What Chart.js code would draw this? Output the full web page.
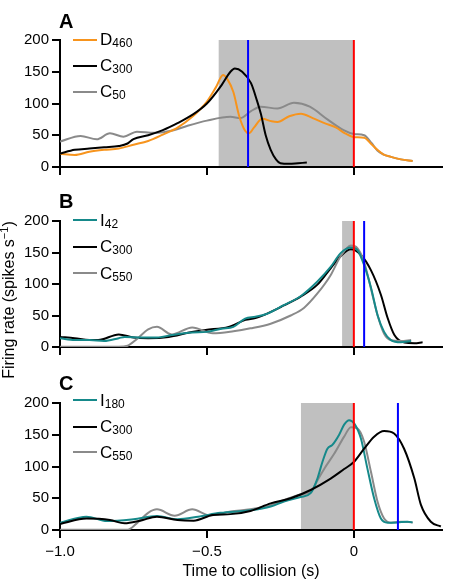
<!DOCTYPE html>
<html><head><meta charset="utf-8">
<script src="https://cdn.jsdelivr.net/npm/chart.js@4.4.1/dist/chart.umd.min.js"></script>
<style>
body{margin:0;background:#fff;}
#wrap{position:relative;width:456px;height:582px;overflow:hidden;font-family:"Liberation Sans",Arial,Helvetica,sans-serif;color:#000;background:#fff;}
canvas{position:absolute;left:0;}
.plabel{position:absolute;font-weight:bold;font-size:20px;line-height:20px;}
.leg{position:absolute;font-size:17px;line-height:17px;white-space:nowrap;}
.sw{position:absolute;width:24px;height:2px;}
.sub{font-size:12px;position:relative;top:2px;}
#ytitle{position:absolute;width:240px;height:20px;line-height:20px;font-size:16px;text-align:center;transform:rotate(-90deg);white-space:nowrap;}
#ytitle sup{font-size:11px;vertical-align:baseline;position:relative;top:-6px;}
</style></head><body>
<div id="wrap">
<canvas id="cA" width="456" height="180" style="top:0px"></canvas>
<canvas id="cB" width="456" height="180" style="top:180px"></canvas>
<canvas id="cC" width="456" height="222" style="top:360px"></canvas>
<div id="ytitle">Firing rate (spikes s<sup>−1</sup>)</div>
</div>
<script>
// ---------- DATA ----------
const xTicks = [-1, -0.5, 0];
const yTicks = [0, 50, 100, 150, 200];

// Panel A
const tA_D460 = [-1.0,-0.95,-0.9,-0.85,-0.8,-0.75,-0.7,-0.65,-0.6,-0.55,-0.5,-0.47,-0.445,-0.43,-0.41,-0.39,-0.37,-0.357,-0.34,-0.312,-0.28,-0.26,-0.22,-0.18,-0.14,-0.1,-0.06,-0.03,0.0,0.035,0.06,0.08,0.1,0.126,0.16,0.2];
const vA_D460 = [21,19,24,27,29,35,41,51,62,79,103,125,145,138,118,80,57,53,62,76,72,71,80,84,77,69,62,53,47,46,36,27,20,16,12,9.5];
const tA_C300 = [-1.0,-0.95,-0.9,-0.85,-0.8,-0.77,-0.75,-0.7,-0.65,-0.6,-0.55,-0.5,-0.45,-0.42,-0.405,-0.38,-0.35,-0.33,-0.316,-0.3,-0.283,-0.265,-0.25,-0.22,-0.19,-0.16];
const vA_C300 = [21,27,29,31,33,37,44,50,58,69,82,100,129,150,155,150,132,105,83,50,27,12,6,5,6,7];
const tA_C50 = [-1.0,-0.93,-0.875,-0.83,-0.784,-0.738,-0.68,-0.613,-0.568,-0.5,-0.42,-0.386,-0.35,-0.317,-0.26,-0.204,-0.15,-0.09,-0.035,0.0,0.035,0.06,0.08,0.1,0.126,0.16,0.2];
const vA_C50 = [40,49,43.6,53,47.7,55.6,54,58,64.6,73,79,77,88,95,92,101,95,75,58,52,50,38,26,20,16,12,9.5];

// Panel B
const tB_I42 = [-1.0,-0.95,-0.9,-0.85,-0.8,-0.78,-0.72,-0.67,-0.62,-0.55,-0.5,-0.45,-0.41,-0.37,-0.335,-0.3,-0.24,-0.18,-0.124,-0.079,-0.045,-0.01,0.012,0.035,0.058,0.081,0.103,0.126,0.16,0.195];
const vB_I42 = [14,11,11,9.5,14,16,15,15,19,23,24,29,32,45,48,52,66,81,104,127,149,158,154,130,95,50,24,11,7.4,9.5];
const tB_C300 = [-1.0,-0.95,-0.9,-0.87,-0.8,-0.75,-0.7,-0.63,-0.56,-0.505,-0.426,-0.369,-0.335,-0.295,-0.238,-0.181,-0.124,-0.079,-0.045,-0.01,0.024,0.058,0.092,0.115,0.138,0.172,0.206,0.234];
const vB_C300 = [16,14,11,11,20,15,14,16,23,27,32,43,46,53,66,80,99,125,144,155,146,122,83,46,19,7,6,7.5];
const tB_C550 = [-1.0,-0.8,-0.77,-0.74,-0.7,-0.67,-0.62,-0.55,-0.48,-0.41,-0.352,-0.283,-0.215,-0.17,-0.124,-0.079,-0.045,-0.01,0.012,0.035,0.058,0.081,0.103,0.126,0.16,0.195];
const vB_C550 = [0.5,0.5,2,12,28,32,20,31,21.7,25,29.6,37,50,62,85,114,144,161,157,135,93,50,21,11,9.5,11];

// Panel C
const tC_I180 = [-1.0,-0.91,-0.84,-0.75,-0.67,-0.6,-0.53,-0.454,-0.352,-0.283,-0.238,-0.181,-0.147,-0.124,-0.107,-0.09,-0.073,-0.05,-0.033,-0.016,0.001,0.024,0.046,0.069,0.092,0.115,0.149,0.183,0.2];
const vC_I180 = [11.5,21,14,17,22,17,21,27,31,37,45,52,58,81,107,128,134,150,166,173,168,144,97,50,18,11.5,12,13,12];
const tC_C300 = [-1.0,-0.91,-0.83,-0.78,-0.727,-0.67,-0.6,-0.545,-0.48,-0.42,-0.352,-0.283,-0.215,-0.147,-0.079,-0.033,0.0,0.035,0.069,0.103,0.137,0.171,0.206,0.228,0.262,0.296];
const vC_C300 = [9.4,18,15.7,10.5,14.7,21,15.7,14.7,23.6,25,30,42,50,63,81,96,107,128,147,156,152,128,81,40,13,5.5];
const tC_C550 = [-1.0,-0.77,-0.74,-0.7,-0.67,-0.61,-0.55,-0.49,-0.42,-0.352,-0.283,-0.238,-0.181,-0.147,-0.124,-0.1,-0.067,-0.033,-0.01,0.012,0.035,0.058,0.081,0.103,0.126,0.16,0.2];
const vC_C550 = [0.5,0.5,10,27,32.5,22.5,32.5,23,29,32.5,39,47,56,60,78,97,120,147,162,160,139,92,44,18,11.5,13,12];

// shaded windows and marker lines (time, s)
const shadeA = [-0.46, 0], shadeB = [-0.04, 0], shadeC = [-0.18, 0];
const redA = 0, redB = 0, redC = 0;
const blueA = -0.36, blueB = 0.035, blueC = 0.15;

// legend labels [main, subscript]
const legendA = [['D','460'],['C','300'],['C','50']];
const legendB = [['I','42'],['C','300'],['C','550']];
const legendC = [['I','180'],['C','300'],['C','550']];
const panelLetters = ['A','B','C'];

// ---------- STYLE ----------
const ORANGE = '#f7941d', BLACK = '#000000', GRAY = '#8a8a8a', TEAL = '#16898a';

Chart.defaults.font.family = '"Liberation Sans", Arial, Helvetica, sans-serif';
Chart.defaults.font.size = 15;
Chart.defaults.color = '#000';

const pts = (t, v) => t.map((x, i) => ({x: x, y: v[i]}));

const marksPlugin = {
  id: 'marks',
  beforeDraw(chart, args, o) {
    const {ctx, scales: {x, y}} = chart;
    const x0 = x.getPixelForValue(o.shade[0]), x1 = x.getPixelForValue(o.shade[1]);
    const yt = y.getPixelForValue(200), yb = y.getPixelForValue(0);
    ctx.save();
    ctx.fillStyle = '#c0c0c0';
    ctx.fillRect(x0, yt, x1 - x0, yb - yt);
    ctx.restore();
  },
  afterDatasetsDraw(chart, args, o) {
    const {ctx, scales: {x, y}} = chart;
    const yt = y.getPixelForValue(200), yb = y.getPixelForValue(0);
    ctx.save();
    ctx.lineWidth = 2;
    [[o.red, '#ff0000'], [o.blue, '#0000ff']].forEach(([v, c]) => {
      const px = x.getPixelForValue(v);
      ctx.strokeStyle = c;
      ctx.beginPath(); ctx.moveTo(px, yt); ctx.lineTo(px, yb); ctx.stroke();
    });
    ctx.restore();
  }
};

function fmtX(v) {
  if (v === 0) return '0';
  return (v < 0 ? '\u2212' : '') + Math.abs(v).toFixed(1);
}

function makePanel(id, padTop, xH, showX, series, shade, red, blue) {
  const datasets = series.map(s => ({
    label: s.label, data: pts(s.t, s.v), borderColor: s.color, borderWidth: 2,
    pointRadius: 0, fill: false, cubicInterpolationMode: 'monotone', order: s.order
  }));
  const axisGrid = {display: true, drawOnChartArea: false, drawTicks: true, tickLength: 8, color: '#000', lineWidth: 2};
  new Chart(document.getElementById(id), {
    type: 'line',
    data: {datasets},
    plugins: [marksPlugin],
    options: {
      responsive: false, animation: false, events: [],
      layout: {padding: {top: padTop, right: 14, left: 0, bottom: 0}},
      plugins: {legend: {display: false}, tooltip: {enabled: false}, marks: {shade, red, blue}},
      scales: {
        x: {
          type: 'linear', min: -1, max: 0.3,
          afterBuildTicks: a => { a.ticks = xTicks.map(v => ({value: v})); },
          afterFit: a => { a.height = xH; },
          ticks: {display: showX, callback: fmtX, maxRotation: 0, autoSkip: false, padding: 5, font: {size: 15}},
          grid: axisGrid,
          border: {display: true, color: '#000', width: 2},
          title: {display: showX, text: 'Time to collision (s)', font: {size: 16}, padding: {top: 0, bottom: 1}}
        },
        y: {
          min: 0, max: 200,
          afterBuildTicks: a => { a.ticks = yTicks.map(v => ({value: v})); },
          afterFit: a => { a.width = 60; },
          ticks: {padding: 3, font: {size: 15}},
          grid: axisGrid,
          border: {display: true, color: '#000', width: 2}
        }
      }
    }
  });
}

makePanel('cA', 40, 13, false, [
  {label: 'D460', t: tA_D460, v: vA_D460, color: ORANGE, order: 2},
  {label: 'C300', t: tA_C300, v: vA_C300, color: BLACK, order: 1},
  {label: 'C50', t: tA_C50, v: vA_C50, color: GRAY, order: 3}
], shadeA, redA, blueA);

makePanel('cB', 41, 13, false, [
  {label: 'I42', t: tB_I42, v: vB_I42, color: TEAL, order: 1},
  {label: 'C300', t: tB_C300, v: vB_C300, color: BLACK, order: 3},
  {label: 'C550', t: tB_C550, v: vB_C550, color: GRAY, order: 2}
], shadeB, redB, blueB);

makePanel('cC', 43, 52, true, [
  {label: 'I180', t: tC_I180, v: vC_I180, color: TEAL, order: 2},
  {label: 'C300', t: tC_C300, v: vC_C300, color: BLACK, order: 1},
  {label: 'C550', t: tC_C550, v: vC_C550, color: GRAY, order: 3}
], shadeC, redC, blueC);

// ---------- HTML text: panel letters, legends, y title ----------
const wrap = document.getElementById('wrap');
function addDiv(cls, html, left, top, extra) {
  const d = document.createElement('div');
  d.className = cls; d.innerHTML = html;
  d.style.left = left + 'px'; d.style.top = top + 'px';
  if (extra) Object.assign(d.style, extra);
  wrap.appendChild(d);
  return d;
}
const letterBaselines = [28, 208, 390];
panelLetters.forEach((L, i) => addDiv('plabel', L, 59, letterBaselines[i] - 0.8465 * 20));

const legendSpecs = [
  {items: legendA, colors: [ORANGE, BLACK, GRAY], lines: [39.5, 65.5, 91.5]},
  {items: legendB, colors: [TEAL, BLACK, GRAY], lines: [220, 246.5, 273]},
  {items: legendC, colors: [TEAL, BLACK, GRAY], lines: [400, 426.5, 452]}
];
legendSpecs.forEach(spec => {
  spec.items.forEach((it, i) => {
    const ly = spec.lines[i];
    addDiv('sw', '', 73, ly - 1, {background: spec.colors[i]});
    addDiv('leg', it[0] + '<span class="sub">' + it[1] + '</span>', 100, ly + 6.3 - 0.8465 * 17);
  });
});

const yt = document.getElementById('ytitle');
yt.style.left = (9 - 120) + 'px';
yt.style.top = (300 - 10) + 'px';
</script>
</body></html>
